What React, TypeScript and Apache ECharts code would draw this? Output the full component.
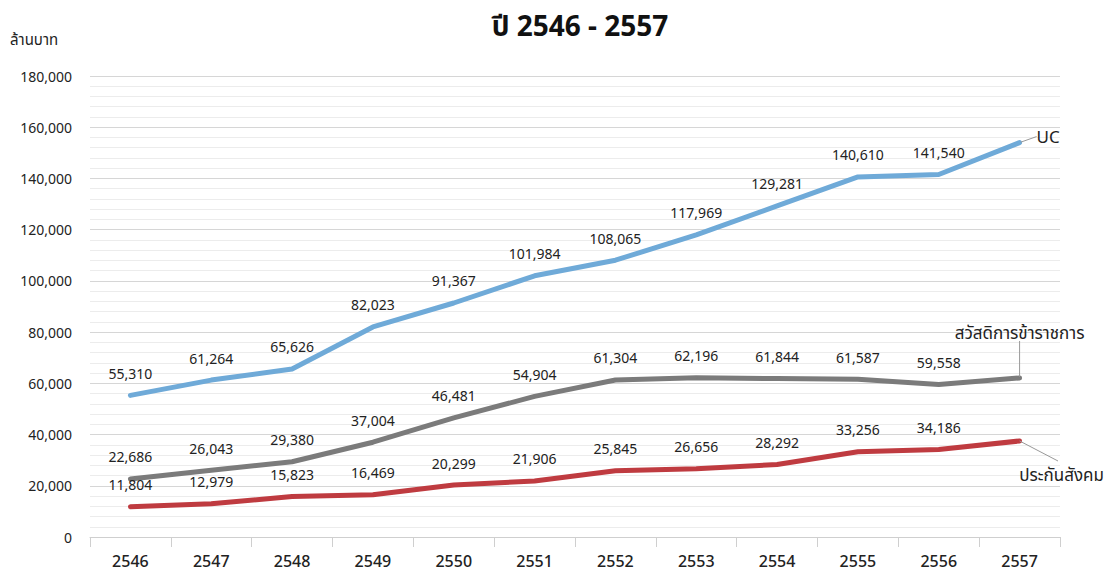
import React, { useEffect, useRef } from "react";
import * as echarts from "echarts";

const years = ["2546", "2547", "2548", "2549", "2550", "2551", "2552", "2553", "2554", "2555", "2556", "2557"];
const ucValues = [55310, 61264, 65626, 82023, 91367, 101984, 108065, 117969, 129281, 140610, 141540, 154000];
const civilValues = [22686, 26043, 29380, 37004, 46481, 54904, 61304, 62196, 61844, 61587, 59558, 62100];
const ssValues = [11804, 12979, 15823, 16469, 20299, 21906, 25845, 26656, 28292, 33256, 34186, 37500];
const seriesNames = ["UC", "สวัสดิการข้าราชการ", "ประกันสังคม"];
const yTicks = { min: 0, max: 180000, interval: 20000 };

const FONT = "'Noto Sans', 'Noto Sans Thai', Roboto, 'DejaVu Sans', sans-serif";

function buildData(values: number[], name: string, labelPos: string, fontSize: number, showLine: boolean) {
  return values.map((v, i) =>
    i === values.length - 1
      ? {
          value: v,
          label: {
            show: true,
            position: labelPos,
            distance: 4,
            formatter: name,
            fontSize,
            color: "#222",
            fontFamily: FONT,
            opacity: 1,
          },
          labelLine: { show: showLine, lineStyle: { color: "#999", width: 1 } },
        }
      : v
  );
}

export default function App() {
  const ref = useRef<HTMLDivElement>(null);
  useEffect(() => {
    if (!ref.current) return;
    const chart = echarts.init(ref.current, undefined, { renderer: "svg" });
    const numLabel = {
      show: true,
      position: "top",
      distance: 14,
      fontSize: 14,
      color: "#222",
      fontFamily: FONT,
      opacity: 1,
      formatter: (p: any) => Number(p.value).toLocaleString("en-US"),
    };
    const mkSeries = (
      name: string,
      values: number[],
      color: string,
      labelPos: string,
      dx: number,
      dy: number,
      fs: number,
      showLine: boolean
    ) => ({
      name,
      type: "line",
      data: buildData(values, name, labelPos, fs, showLine),
      symbol: "circle",
      symbolSize: 2,
      showSymbol: true,
      smooth: false,
      lineStyle: { color, width: 5, cap: "round", join: "round" },
      itemStyle: { color },
      label: numLabel,
      labelLine: { show: false },
      labelLayout: (params: any) =>
        params.dataIndex === values.length - 1 ? { dx, dy } : {},
    });
    const ssSeries: any = mkSeries(seriesNames[2], ssValues, "#bf3b40", "bottom", 42, 20, 17, false);
    const last = ssValues.length - 1;
    ssSeries.markLine = {
      silent: true,
      symbol: "none",
      label: { show: false },
      lineStyle: { color: "#999", width: 1, type: "solid" },
      data: [[{ coord: [years[last], ssValues[last]] }, { x: 1058, y: 461 }]],
    };
    chart.setOption({
      animation: false,
      backgroundColor: "#ffffff",
      title: {
        text: "ปี 2546 - 2557",
        left: 575,
        top: 6,
        textAlign: "center",
        textStyle: { fontSize: 28, fontWeight: "bold", color: "#111", fontFamily: FONT },
      },
      graphic: [
        {
          type: "text",
          left: 10,
          top: 31,
          style: { text: "ล้านบาท", fontSize: 15, fill: "#222", fontFamily: FONT },
        },
      ],
      grid: { left: 90, right: 53, top: 76, bottom: 40, containLabel: false },
      xAxis: {
        type: "category",
        data: years,
        boundaryGap: true,
        axisLine: { show: true, lineStyle: { color: "#cfcfcf" } },
        axisTick: { show: true, interval: 0, length: 10, lineStyle: { color: "#cfcfcf" } },
        axisLabel: { fontSize: 16, color: "#222", margin: 16, fontFamily: FONT, fontWeight: 500 },
        splitLine: { show: false },
      },
      yAxis: {
        type: "value",
        min: yTicks.min,
        max: yTicks.max,
        interval: yTicks.interval,
        axisLine: { show: false },
        axisTick: { show: false },
        axisLabel: {
          fontSize: 14,
          color: "#222",
          margin: 18,
          fontFamily: FONT,
          formatter: (v: number) => v.toLocaleString("en-US"),
        },
        splitLine: { show: true, lineStyle: { color: "#d6d6d6", width: 1 } },
        minorTick: { show: false, splitNumber: 5 },
        minorSplitLine: { show: true, lineStyle: { color: "#ececec", width: 1 } },
      },
      series: [
        mkSeries(seriesNames[0], ucValues, "#6faad8", "right", 12, -6, 17, true),
        mkSeries(seriesNames[1], civilValues, "#7b7b7b", "top", 0, -32, 17, true),
        ssSeries,
      ],
    });
    return () => chart.dispose();
  }, []);
  return (
    <div
      ref={ref}
      style={{ position: "fixed", left: 0, top: 0, width: 1113, height: 577 }}
    />
  );
}
